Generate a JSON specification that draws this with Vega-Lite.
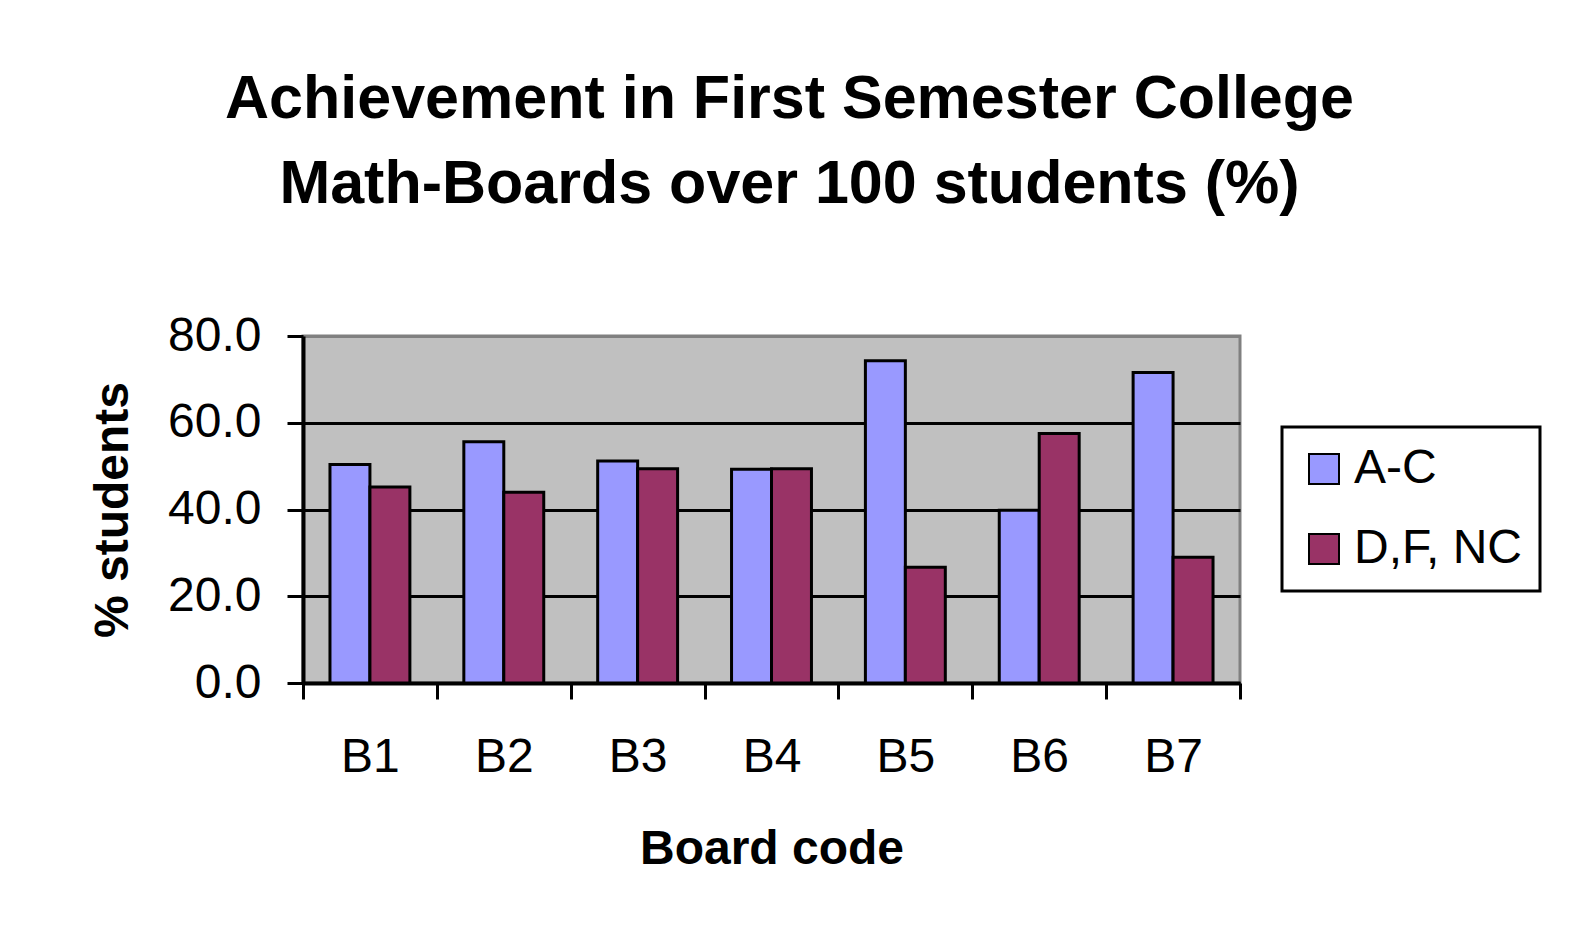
{
  "$schema": "https://vega.github.io/schema/vega-lite/v6.json",
  "autosize": {"type": "none"},
  "width": 937,
  "height": 347,
  "padding": {"left": 303, "top": 336, "right": 331, "bottom": 267},
  "background": "white",
  "title": {
    "text": ["Achievement in First Semester College", "Math-Boards over 100 students (%)"],
    "font": "Liberation Sans",
    "fontSize": 61,
    "fontWeight": "bold",
    "color": "black",
    "lineHeight": 85,
    "anchor": "middle",
    "frame": "group",
    "dx": 18,
    "offset": 96
  },
  "data": {
    "values": [
      {"board": "B1", "grade": "A-C", "pct": 50.4},
      {"board": "B1", "grade": "D,F, NC", "pct": 45.2},
      {"board": "B2", "grade": "A-C", "pct": 55.6},
      {"board": "B2", "grade": "D,F, NC", "pct": 44.0},
      {"board": "B3", "grade": "A-C", "pct": 51.2},
      {"board": "B3", "grade": "D,F, NC", "pct": 49.4},
      {"board": "B4", "grade": "A-C", "pct": 49.3},
      {"board": "B4", "grade": "D,F, NC", "pct": 49.4},
      {"board": "B5", "grade": "A-C", "pct": 74.3},
      {"board": "B5", "grade": "D,F, NC", "pct": 26.7},
      {"board": "B6", "grade": "A-C", "pct": 39.8},
      {"board": "B6", "grade": "D,F, NC", "pct": 57.5},
      {"board": "B7", "grade": "A-C", "pct": 71.6},
      {"board": "B7", "grade": "D,F, NC", "pct": 29.0}
    ]
  },
  "mark": {"type": "bar", "stroke": "black", "strokeWidth": 3},
  "encoding": {
    "x": {
      "field": "board",
      "type": "nominal",
      "scale": {"paddingInner": 0, "paddingOuter": 0},
      "axis": {
        "title": "Board code",
        "labelAngle": 0,
        "tickBand": "extent",
        "tickSize": 16,
        "tickWidth": 3,
        "tickColor": "black",
        "domainColor": "black",
        "domainWidth": 4,
        "labelFont": "Liberation Sans",
        "labelFontSize": 48,
        "labelColor": "black",
        "labelPadding": 34,
        "titleFont": "Liberation Sans",
        "titleFontSize": 48,
        "titleFontWeight": "bold",
        "titleColor": "black",
        "titlePadding": 44
      }
    },
    "xOffset": {
      "field": "grade",
      "type": "nominal",
      "scale": {"paddingInner": 0, "paddingOuter": 0.675}
    },
    "y": {
      "field": "pct",
      "type": "quantitative",
      "scale": {"domain": [0, 80], "nice": false},
      "axis": {
        "title": "% students",
        "values": [0, 20, 40, 60, 80],
        "format": ".1f",
        "grid": true,
        "gridColor": {"condition": {"test": "datum.value === 80", "value": "#808080"}, "value": "black"},
        "gridWidth": 3,
        "tickSize": 16,
        "tickWidth": 3,
        "tickColor": "black",
        "domainColor": "black",
        "domainWidth": 4,
        "labelFont": "Liberation Sans",
        "labelFontSize": 48,
        "labelColor": "black",
        "labelPadding": 26,
        "titleFont": "Liberation Sans",
        "titleFontSize": 48,
        "titleFontWeight": "bold",
        "titleColor": "black",
        "titlePadding": 30
      }
    },
    "color": {
      "field": "grade",
      "type": "nominal",
      "scale": {"domain": ["A-C", "D,F, NC"], "range": ["#9999FF", "#993366"]},
      "legend": {
        "title": null,
        "orient": "none",
        "legendX": 979,
        "legendY": 91,
        "padding": 18,
        "strokeColor": "black",
        "fillColor": "white",
        "symbolType": "square",
        "symbolSize": 900,
        "symbolStrokeColor": "black",
        "symbolStrokeWidth": 2,
        "labelFont": "Liberation Sans",
        "labelFontSize": 48,
        "labelColor": "black",
        "labelOffset": 6,
        "labelLimit": 500,
        "rowPadding": 32,
        "encode": {"legend": {"update": {"strokeWidth": {"value": 3}}}}
      }
    }
  },
  "config": {
    "view": {"fill": "#C0C0C0", "stroke": "#808080", "strokeWidth": 3}
  }
}
